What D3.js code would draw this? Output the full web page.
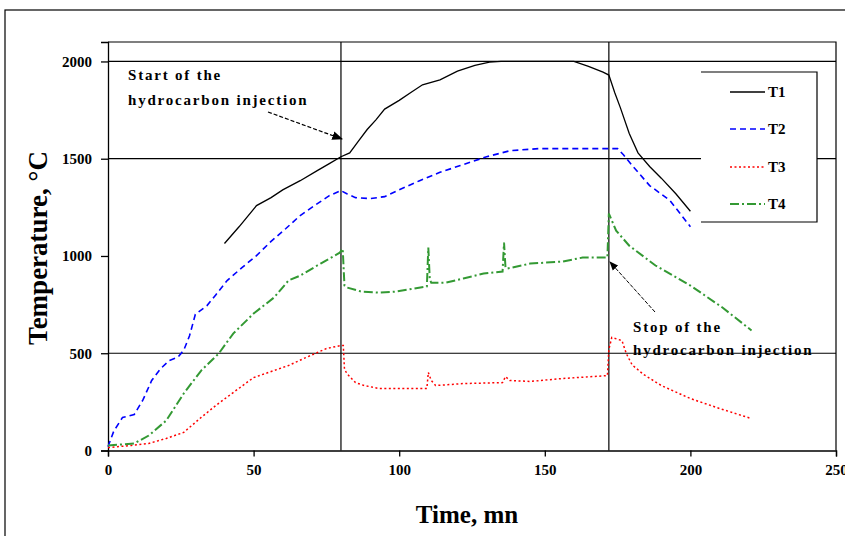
<!DOCTYPE html>
<html><head><meta charset="utf-8">
<script src="https://cdn.jsdelivr.net/npm/d3@7/dist/d3.min.js"></script>
<style>body{margin:0;background:#fff}text{font-family:"Liberation Serif","Times New Roman",serif;font-weight:bold}</style>
</head><body><svg id="c" width="845" height="536"></svg>
<script>
const xTicks=[0,50,100,150,200,250];
const yTicks=[0,500,1000,1500,2000];
const gridY=[500,1500,2000];
const events=[80,172];
const seriesNames=["T1","T2","T3","T4"];
const t1=[[40,1064],[45,1150],[51,1259],[56,1300],[60,1340],[66,1387],[72,1440],[76,1475],[80,1510],[83,1530],[86,1590],[89,1650],[92,1700],[95,1755],[100,1800],[104,1840],[108,1880],[114,1905],[120,1950],[126,1980],[131,1997],[135,2000],[160,2000],[165,1975],[170,1945],[172,1930],[174,1840],[176,1760],[179,1630],[182,1530],[186,1460],[190,1400],[195,1320],[200,1230]];
const t2=[[0,20],[2,100],[5,170],[9,185],[12,260],[15,360],[18,420],[21,462],[24,480],[26,515],[28,590],[30,700],[34,745],[37,800],[41,875],[46,940],[51,1002],[56,1075],[61,1140],[66,1208],[71,1260],[76,1310],[80,1336],[82,1320],[85,1300],[90,1295],[95,1305],[100,1340],[107,1387],[114,1430],[121,1465],[130,1510],[138,1541],[148,1552],[175,1552],[177,1520],[180,1465],[186,1362],[193,1285],[200,1150]];
const t3=[[0,15],[8,26],[14,36],[20,62],[26,93],[32,170],[37,231],[43,298],[50,375],[57,411],[62,437],[68,478],[75,524],[80,540],[80.8,540],[81.2,420],[82,396],[85,349],[88,334],[93,319],[109.5,319],[110,401],[111,360],[112.5,334],[122,344],[135.5,349],[136.5,380],[138,360],[145,355],[156,370],[171.5,385],[172,520],[173,581],[176.5,565],[178,498],[180,440],[184,390],[190,334],[200,267],[210,216],[221,164]];
const t4=[[0,26],[9,36],[14,77],[20,154],[26,293],[32,411],[38,498],[43,601],[50,704],[57,786],[62,874],[66,899],[73,961],[79.6,1017],[80.6,1038],[81.2,848],[82,838],[87,817],[93,812],[99,817],[105,832],[109.5,843],[110,1043],[110.5,880],[111,863],[116,863],[122,884],[129,910],[135.5,920],[136,1069],[136.5,940],[137,935],[145,961],[156,971],[163,992],[171.5,992],[172,1218],[174.5,1130],[179,1053],[188,951],[200,848],[211,735],[221,617]];

const svg=d3.select("#c");
const L=108,R=836,T=42,B=450.5;
const x=d3.scaleLinear().domain([0,250]).range([L,R]);
const y=d3.scaleLinear().domain([0,2100]).range([B,T]);

svg.append("rect").attr("x",5).attr("y",10).attr("width",860).attr("height",560).attr("fill","none").attr("stroke","#000").attr("stroke-width",1.2);
svg.append("path").attr("d",`M${L},${T}H${R}V${B}`).attr("fill","none").attr("stroke","#000").attr("stroke-width",1.2);
svg.selectAll(".gy").data(gridY).enter().append("line").attr("x1",L).attr("x2",R).attr("y1",d=>y(d)).attr("y2",d=>y(d)).attr("stroke","#000").attr("stroke-width",1.2);
svg.selectAll(".ev").data(events).enter().append("line").attr("x1",d=>x(d)).attr("x2",d=>x(d)).attr("y1",T).attr("y2",B).attr("stroke","#000").attr("stroke-width",1.2);

const fmt=d3.format("d");
const ya=svg.append("g").attr("transform",`translate(${L},0)`).call(d3.axisLeft(y).tickValues(yTicks).tickFormat(fmt).tickSize(7).tickPadding(9));
const xa=svg.append("g").attr("transform",`translate(0,${B})`).call(d3.axisBottom(x).tickValues(xTicks).tickFormat(fmt).tickSize(6).tickPadding(8));
[ya,xa].forEach(a=>{a.selectAll("path,line").attr("stroke","#000").attr("stroke-width",1.3);a.selectAll("text").attr("font-size",15).attr("fill","#000").attr("font-family","Liberation Serif").attr("font-weight","bold");});

const line=d3.line().x(d=>x(d[0])).y(d=>y(d[1]));
const styles=[
 {d:t1,c:"#000",w:1.3,da:null},
 {d:t2,c:"#0000ff",w:1.6,da:"6,4"},
 {d:t3,c:"#ff0000",w:1.5,da:"2,2.5"},
 {d:t4,c:"#339933",w:2,da:"9,3,2,3"}];
styles.forEach(s=>{svg.append("path").datum(s.d).attr("d",line).attr("fill","none").attr("stroke",s.c).attr("stroke-width",s.w).attr("stroke-dasharray",s.da);});

svg.append("rect").attr("x",701).attr("y",72).attr("width",116).attr("height",150).attr("fill","#fff");
svg.append("path").attr("d","M701,72H817V222H701").attr("fill","none").attr("stroke","#000").attr("stroke-width",1.2);
const ly=[92,129,167,204];
styles.forEach((s,i)=>{
 svg.append("line").attr("x1",730).attr("x2",765).attr("y1",ly[i]).attr("y2",ly[i]).attr("stroke",s.c).attr("stroke-width",s.w).attr("stroke-dasharray",s.da);
 svg.append("text").attr("x",768).attr("y",ly[i]+5).attr("font-size",15).text(seriesNames[i]);
});

const defs=svg.append("defs");
defs.append("marker").attr("id","ah").attr("viewBox","0 0 10 10").attr("refX",9).attr("refY",5).attr("markerWidth",9).attr("markerHeight",9).attr("orient","auto").append("path").attr("d","M0,1L10,5L0,9Z").attr("fill","#000");
const ann={"font-size":15,"letter-spacing":1.8};
function txt(xp,yp,s){const t=svg.append("text").attr("x",xp).attr("y",yp).text(s);Object.entries(ann).forEach(([k,v])=>t.attr(k,v));}
txt(128,80,"Start of the");
txt(128,105,"hydrocarbon injection");
svg.append("line").attr("x1",268).attr("y1",112).attr("x2",342).attr("y2",139).attr("stroke","#000").attr("stroke-width",1.2).attr("stroke-dasharray","4,2").attr("marker-end","url(#ah)");
txt(633,332,"Stop of the");
txt(633,355,"hydrocarbon injection");
svg.append("line").attr("x1",655).attr("y1",312).attr("x2",610).attr("y2",262).attr("stroke","#000").attr("stroke-width",1).attr("stroke-dasharray","4,1.5").attr("marker-end","url(#ah)");

svg.append("text").attr("x",467).attr("y",523).attr("text-anchor","middle").attr("font-size",25).text("Time, mn");
svg.append("text").attr("transform","translate(47,248) rotate(-90)").attr("text-anchor","middle").attr("font-size",27).text("Temperature, °C");
</script></body></html>
